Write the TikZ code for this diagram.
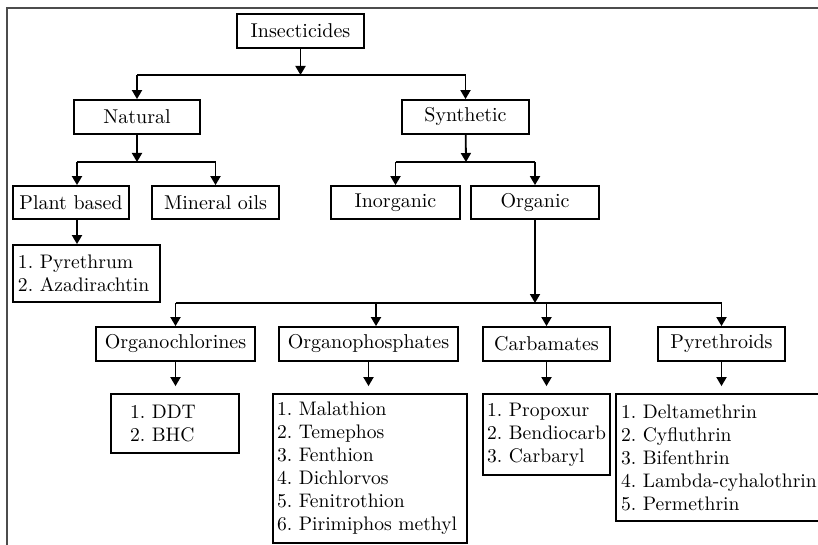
\documentclass[tikz,border=0pt]{standalone}
\usetikzlibrary{arrows.meta}
\frenchspacing
\tikzset{
  box/.style={draw, line width=0.9pt, inner sep=0pt, minimum height=17pt,
    font=\fontsize{10}{12}\selectfont},
  listbox/.style={draw, line width=0.9pt, align=left, inner ysep=0pt,
    font=\fontsize{9.8}{11.5}\selectfont},
  arr/.style={line width=0.9pt, -{Triangle[width=5pt,length=4.5pt]}},
  bus/.style={line width=0.9pt},
}
\begin{document}
\begin{tikzpicture}[x=0.5pt,y=-0.5pt]
  \clip (0,0) rectangle (818,545);
  % frame
  \draw[black!70, line width=1pt] (7,545) -- (7,8.5) -- (818,8.5);
  % heads
  \node[box, minimum width=63.5pt] (ins) at (300.5,31) {Insecticides};
  \node[box, minimum width=63pt] (nat) at (137,117) {Natural};
  \node[box, minimum width=63.5pt] (syn) at (465.5,117) {Synthetic};
  \node[box, minimum width=58pt, minimum height=16.5pt] (plant) at (71,202.5) {Plant based};
  \node[box, minimum width=63.5pt, minimum height=16.5pt] (mineral) at (215.5,202.5) {Mineral oils};
  \node[box, minimum width=64.5pt, minimum height=16.5pt] (inorg) at (395.5,202.5) {Inorganic};
  \node[box, minimum width=64pt, minimum height=16.5pt] (org) at (535,202.5) {Organic};
  \node[box, minimum width=79.5pt] (ochl) at (175.5,344) {Organochlorines};
  \node[box, minimum width=89.5pt] (ophos) at (368.5,344) {Organophosphates};
  \node[box, minimum width=63.5pt] (carb) at (546.5,344) {Carbamates};
  \node[box, minimum width=63.5pt] (pyrd) at (721.5,344) {Pyrethroids};
  % lists
  \node[listbox, text width=68.5pt, inner xsep=2.5pt, minimum height=28.5pt] (pyl) at (86.5,273.5)
    {1. Pyrethrum\\2. Azadirachtin};
  \node[listbox, text width=45pt, inner xsep=9.5pt, minimum height=29.5pt] (ddtl) at (175,423.5)
    {1. DDT\\2. BHC};
  \node[listbox, text width=93pt, inner xsep=2pt, minimum height=74.5pt] (ophl) at (370,468.5)
    {1. Malathion\\2. Temephos\\3. Fenthion\\4. Dichlorvos\\5. Fenitrothion\\6. Pirimiphos methyl};
  \node[listbox, text width=59.5pt, inner xsep=2pt, minimum height=40.5pt] (carl) at (546.5,434.5)
    {1. Propoxur\\2. Bendiocarb\\3. Carbaryl};
  \node[listbox, text width=103pt, inner xsep=2.5pt, minimum height=63.5pt] (pyrl) at (724,457.5)
    {1. Deltamethrin\\2. Cyfluthrin\\3. Bifenthrin\\4. Lambda-cyhalothrin\\5. Permethrin};
  % connectors
  \coordinate (j1) at (300.5,75);
  \draw[arr] (ins) -- (j1);
  \draw[bus] (nat |- j1) -- (syn |- j1);
  \foreach \n in {nat,syn}
    \draw[arr] (\n |- j1) -- (\n);
  \coordinate (j2) at (137,162);
  \coordinate (pb) at (77,162);
  \draw[arr] (nat) -- (j2);
  \draw[bus] (pb) -- (mineral |- j2);
  \draw[arr] (pb) -- (pb |- plant.north);
  \draw[arr] (mineral |- j2) -- (mineral);
  \draw[arr] (pb |- plant.south) -- (pb |- pyl.north);
  \coordinate (j3) at (466,162);
  \draw[arr] (syn) -- (j3);
  \draw[bus] (inorg |- j3) -- (org |- j3);
  \foreach \n in {inorg,org}
    \draw[arr] (\n |- j3) -- (\n);
  \coordinate (j4) at (535,303);
  \coordinate (op) at (376,303);
  \draw[arr] (org) -- (j4);
  \draw[bus] (ochl |- j4) -- (pyrd |- j4);
  \draw[arr] (op) -- (op |- ophos.north);
  \foreach \n in {ochl,carb,pyrd}
    \draw[arr] (\n |- j4) -- (\n);
  \foreach \n/\l in {ochl/ddtl,ophos/ophl,carb/carl,pyrd/pyrl}
    \draw[arr] (\n) -- ([yshift=3.5pt]\n |- \l.north);
\end{tikzpicture}
\end{document}
